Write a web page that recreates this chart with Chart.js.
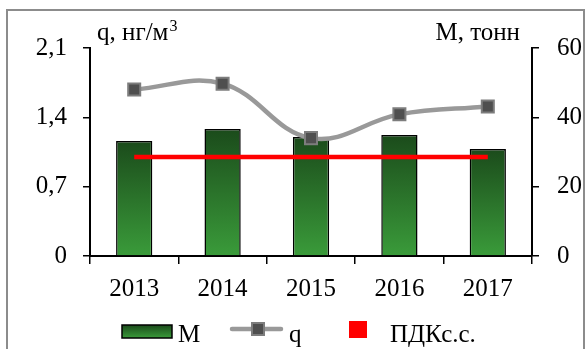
<!DOCTYPE html>
<html>
<head>
<meta charset="utf-8">
<script src="https://cdn.jsdelivr.net/npm/chart.js@4.4.1/dist/chart.umd.min.js"></script>
<style>
  body { margin: 0; background: #fff; }
  #wrap { position: relative; width: 585px; height: 349px; overflow: hidden; }
  #frame { position: absolute; left: 6px; top: 9px; width: 575px; height: 360px; border: 2px solid #8c8c8c; }
  canvas { position: absolute; left: 0; top: 0; }
</style>
</head>
<body>
<div id="wrap"><div id="frame"></div><canvas id="chart" width="585" height="349"></canvas></div>
<script>
const years = ["2013", "2014", "2015", "2016", "2017"];
const massM = [33.2, 36.6, 34.3, 34.9, 30.9]; // M, тонн (right axis)
const concQ = [1.68, 1.74, 1.19, 1.43, 1.51]; // q, нг/м3 (left axis)
const pdkSS = [1.0, 1.0, 1.0, 1.0, 1.0]; // ПДКс.с.
const qTicks = [0, 0.7, 1.4, 2.1];
const mTicks = [0, 20, 40, 60];

const FONT_FAMILY = "'Liberation Serif', 'Times New Roman', serif";
const FONT_PX = 25;
const GREEN_TOP = "#1b4b1b";
const GREEN_BOTTOM = "#3a9b3a";
const LINE_GREY = "#999999";
const MARKER_FILL = "#4f4f4f";
const MARKER_EDGE = "#7d7d7d";
const PDK_RED = "#ff0000";

Chart.defaults.font.family = FONT_FAMILY;
Chart.defaults.font.size = FONT_PX;
Chart.defaults.color = "#000";

function greenGradient(ctx, top, bottom) {
  const g = ctx.createLinearGradient(0, top, 0, bottom);
  g.addColorStop(0, GREEN_TOP);
  g.addColorStop(1, GREEN_BOTTOM);
  return g;
}

function barFill(context) {
  const chart = context.chart;
  if (!chart.chartArea || context.type !== "data") {
    return GREEN_BOTTOM;
  }
  const scale = chart.scales.yM;
  return greenGradient(
    chart.ctx,
    scale.getPixelForValue(context.raw),
    scale.getPixelForValue(0)
  );
}

const axisGrid = {
  drawOnChartArea: false,
  color: "#000",
  lineWidth: 1.5,
  tickLength: 7,
};

const extrasPlugin = {
  id: "extras",
  afterDraw(chart) {
    const ctx = chart.ctx;
    const area = chart.chartArea;
    ctx.save();
    ctx.fillStyle = "#000";
    ctx.textBaseline = "alphabetic";
    ctx.font = FONT_PX + "px " + FONT_FAMILY;

    // axis titles above the axes
    ctx.textAlign = "left";
    const qTitle = "q, нг/м";
    ctx.fillText(qTitle, area.left + 7, 40);
    const w = ctx.measureText(qTitle).width;
    ctx.font = "16px " + FONT_FAMILY;
    ctx.fillText("3", area.left + 8 + w, 31);
    ctx.font = FONT_PX + "px " + FONT_FAMILY;
    ctx.textAlign = "right";
    ctx.fillText("M, тонн", area.right - 12, 40);

    // legend
    const [dsM, dsQ, dsPdk] = chart.data.datasets;
    ctx.textAlign = "left";
    ctx.fillStyle = greenGradient(ctx, 325, 338);
    ctx.fillRect(122, 325, 50, 13);
    ctx.strokeStyle = "#000";
    ctx.lineWidth = 1.5;
    ctx.strokeRect(122, 325, 50, 13);
    ctx.fillStyle = "#000";
    ctx.fillText(dsM.label, 178, 342);

    ctx.strokeStyle = dsQ.borderColor;
    ctx.lineWidth = 4.5;
    ctx.lineCap = "round";
    ctx.beginPath();
    ctx.moveTo(232, 329);
    ctx.lineTo(281, 329);
    ctx.stroke();
    ctx.fillStyle = MARKER_FILL;
    ctx.strokeStyle = MARKER_EDGE;
    ctx.lineWidth = 2;
    ctx.fillRect(252, 323, 12, 12);
    ctx.strokeRect(252, 323, 12, 12);
    ctx.fillStyle = "#000";
    ctx.fillText(dsQ.label, 289, 342);

    ctx.fillStyle = dsPdk.borderColor;
    ctx.fillRect(349, 321, 18, 17);
    ctx.fillStyle = "#000";
    ctx.fillText(dsPdk.label, 390, 342);
    ctx.restore();
  },
};

new Chart(document.getElementById("chart").getContext("2d"), {
  type: "bar",
  data: {
    labels: years,
    datasets: [
      {
        type: "bar",
        label: "M",
        data: massM,
        yAxisID: "yM",
        backgroundColor: barFill,
        borderColor: "#000",
        borderWidth: 1.5,
        categoryPercentage: 1,
        barPercentage: 0.41,
        order: 3,
      },
      {
        type: "line",
        label: "q",
        data: concQ,
        yAxisID: "yQ",
        borderColor: LINE_GREY,
        borderWidth: 4.5,
        tension: 0.4,
        pointStyle: "rect",
        pointRadius: 8.5,
        pointBackgroundColor: MARKER_FILL,
        pointBorderColor: MARKER_EDGE,
        pointBorderWidth: 2,
        order: 1,
      },
      {
        type: "line",
        label: "ПДКс.с.",
        data: pdkSS,
        yAxisID: "yQ",
        borderColor: PDK_RED,
        borderWidth: 4.5,
        pointRadius: 0,
        order: 2,
      },
    ],
  },
  options: {
    responsive: false,
    animation: false,
    layout: { padding: { top: 48, left: 0, right: 0, bottom: 0 } },
    plugins: { legend: { display: false }, tooltip: { enabled: false } },
    scales: {
      x: {
        offset: true,
        grid: { ...axisGrid, offset: true, tickLength: 8 },
        border: { color: "#000", width: 2 },
        ticks: { padding: 10, maxRotation: 0 },
        afterFit: (s) => { s.height = 93; },
      },
      yQ: {
        position: "left",
        min: 0,
        max: 2.1,
        grid: axisGrid,
        border: { color: "#000", width: 2 },
        ticks: {
          padding: 16,
          callback: (v) => String(v).replace(".", ","),
        },
        afterBuildTicks: (s) => { s.ticks = qTicks.map((v) => ({ value: v })); },
        afterFit: (s) => { s.width = 90; },
      },
      yM: {
        position: "right",
        min: 0,
        max: 60,
        grid: axisGrid,
        border: { color: "#000", width: 2 },
        ticks: { padding: 18 },
        afterBuildTicks: (s) => { s.ticks = mTicks.map((v) => ({ value: v })); },
        afterFit: (s) => { s.width = 53; },
      },
    },
  },
  plugins: [extrasPlugin],
});
</script>
</body>
</html>
